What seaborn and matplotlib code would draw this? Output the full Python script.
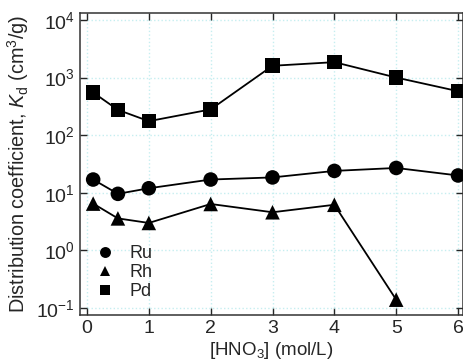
import pandas as pd
import seaborn as sns
import matplotlib.pyplot as plt
from matplotlib.ticker import NullLocator

# [HNO3] concentrations (mol/L)
hno3 = [0.1, 0.5, 1, 2, 3, 4, 5, 6]
ru_kd = [17, 9.6, 12, 17, 18.5, 24, 27, 20]
rh_kd = [6.5, 3.6, 3.0, 6.4, 4.6, 6.2, 0.14, None]
pd_kd = [550, 275, 175, 280, 1600, 1850, 1000, 580]
metals = ["Ru", "Rh", "Pd"]
marker_map = {"Ru": "o", "Rh": "^", "Pd": "s"}

frames = []
for name, vals in zip(metals, [ru_kd, rh_kd, pd_kd]):
    frames.append(pd.DataFrame({"HNO3": hno3, "Kd": vals, "metal": name}))
df = pd.concat(frames).dropna()

sns.set_style("ticks")
plt.rcParams["font.family"] = ["Liberation Sans", "DejaVu Sans"]
plt.rcParams["mathtext.fontset"] = "custom"
plt.rcParams["mathtext.rm"] = "Liberation Sans"
plt.rcParams["mathtext.it"] = "Liberation Sans:italic"
plt.rcParams["axes.unicode_minus"] = False

fig = plt.figure(figsize=(4.64, 3.64), dpi=100)
ax = fig.add_axes([0.1724, 0.1346, 0.8254, 0.8297])

for name in metals:
    sub = df[df["metal"] == name]
    sns.lineplot(data=sub, x="HNO3", y="Kd", color="black", lw=1.3,
                 legend=False, ax=ax, zorder=3)
sns.scatterplot(data=df, x="HNO3", y="Kd", style="metal", markers=marker_map,
                style_order=metals, color="black", s=110, edgecolor="black",
                linewidth=0, ax=ax, zorder=4)

ax.set_yscale("log")
ax.set_xlim(-0.113, 6.08)
ax.set_ylim(10 ** -1.12, 10 ** 4.12)
ax.set_xticks(range(0, 7))
ax.set_yticks([0.1, 1, 10, 100, 1000, 10000])
ax.yaxis.set_minor_locator(NullLocator())
ax.grid(True, which="major", color="#c6eef0", linestyle=":", linewidth=1.0)
ax.tick_params(direction="in", which="both", top=True, right=True,
               length=5, width=1, labelsize=14, pad=3.5)
for sp in ax.spines.values():
    sp.set_linewidth(1.1)
    sp.set_color("#333333")

ax.set_xlabel("[HNO$_3$] (mol/L)", fontsize=13.5, labelpad=2)
ax.set_ylabel("Distribution coefficient, $K_\\mathrm{d}$ (cm$^3$/g)",
              fontsize=14.3, labelpad=4)

handles, labels = ax.get_legend_handles_labels()
ax.legend(handles, labels, loc="lower left", frameon=False, fontsize=13,
          handletextpad=0.4, labelspacing=0.1, borderaxespad=0,
          bbox_to_anchor=(-0.002, 0.026), markerscale=0.75)

fig.savefig("out.png", dpi=100)
